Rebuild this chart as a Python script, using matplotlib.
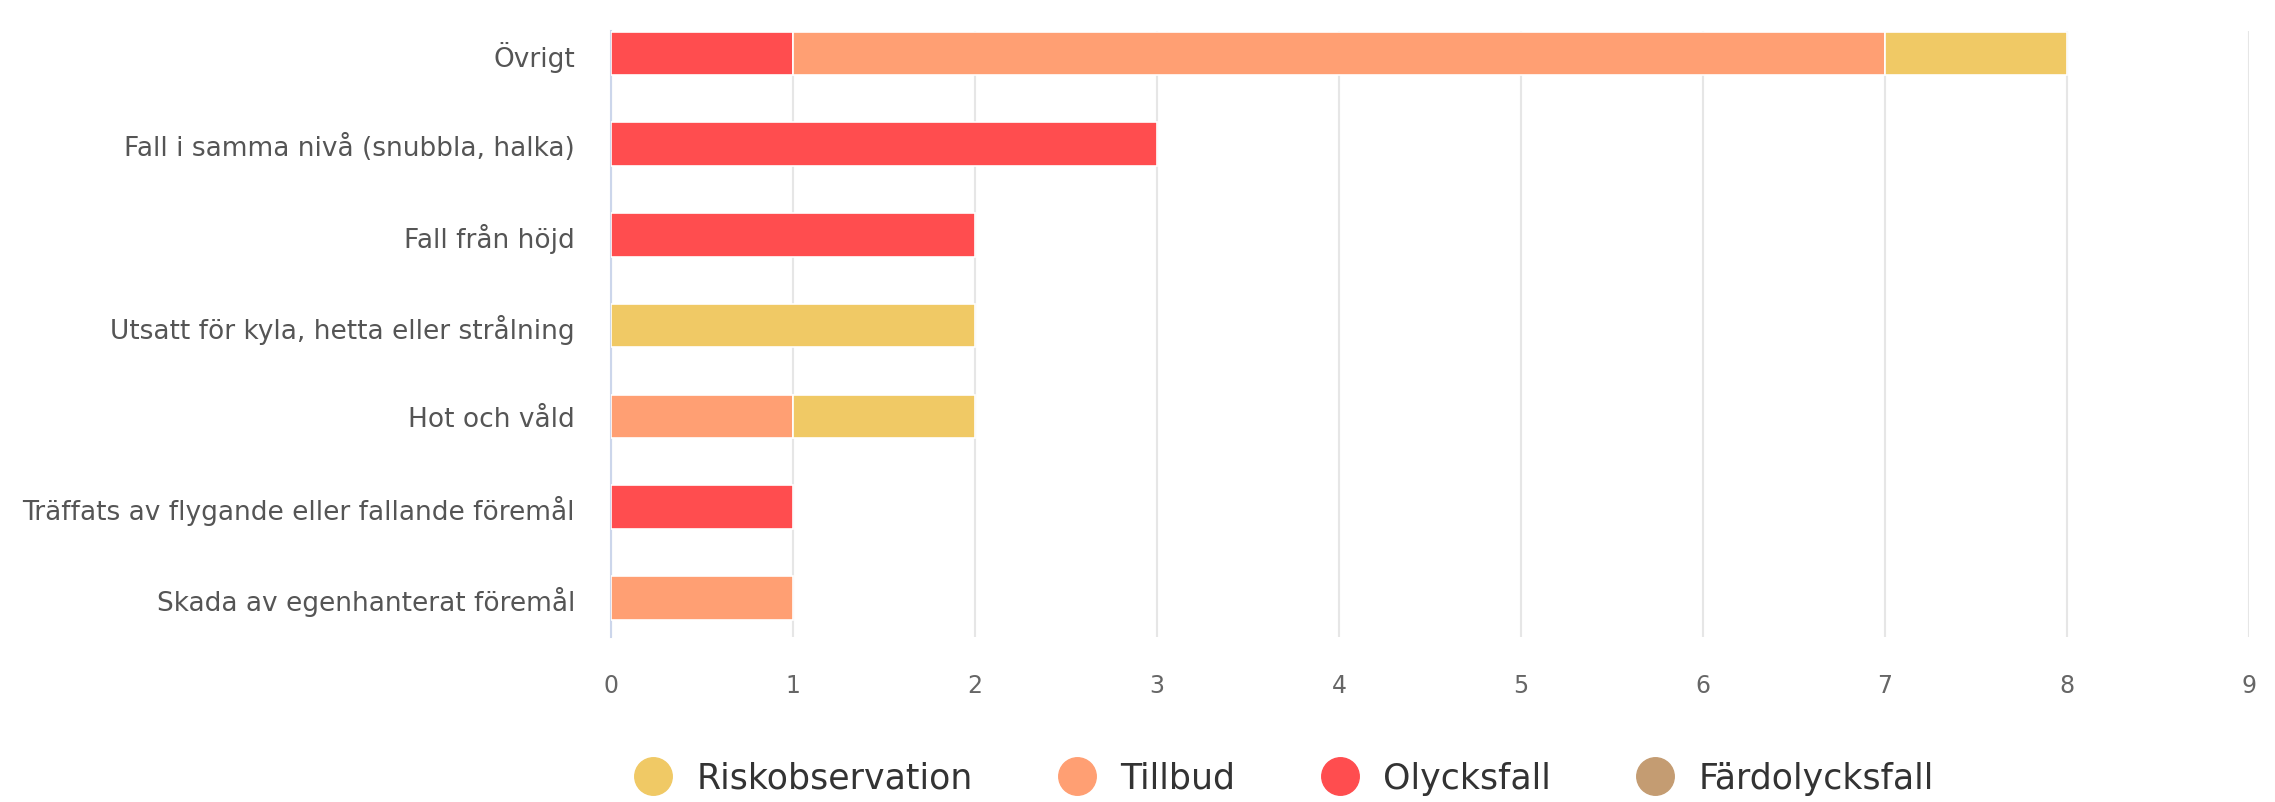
import matplotlib.pyplot as plt
import numpy as np

categories = [
    "Övrigt",
    "Fall i samma nivå (snubbla, halka)",
    "Fall från höjd",
    "Utsatt för kyla, hetta eller strålning",
    "Hot och våld",
    "Träffats av flygande eller fallande föremål",
    "Skada av egenhanterat föremål",
]
series_names = ["Riskobservation", "Tillbud", "Olycksfall", "Färdolycksfall"]
riskobservation = [1, 0, 0, 2, 1, 0, 0]
tillbud = [6, 0, 0, 0, 1, 0, 1]
olycksfall = [1, 3, 2, 0, 0, 1, 0]
fardolycksfall = [0, 0, 0, 0, 0, 0, 0]
x_ticks = list(range(0, 10))

colors = {
    "Riskobservation": "#f0c965",
    "Tillbud": "#ff9f73",
    "Olycksfall": "#ff4d4f",
    "Färdolycksfall": "#c49c72",
}

fig = plt.figure(figsize=(22.75, 8.03), dpi=100)
ax = fig.add_axes([0.2686, 0.2055, 0.72, 0.755])

y = np.arange(len(categories))[::-1]
left = np.zeros(len(categories))
# stacking from the axis outward: Färdolycksfall, Olycksfall, Tillbud, Riskobservation
stack = [("Färdolycksfall", fardolycksfall), ("Olycksfall", olycksfall),
         ("Tillbud", tillbud), ("Riskobservation", riskobservation)]
for name, vals in stack:
    vals = np.array(vals, dtype=float)
    mask = vals > 0
    ax.barh(y[mask], vals[mask], left=left[mask], height=0.48,
            color=colors[name], edgecolor="white", linewidth=1.2, zorder=3)
    left += vals

ax.set_xlim(0, 9)
ax.set_ylim(-0.43, 6.25)
ax.set_xticks(x_ticks)
ax.set_yticks(y)
ax.set_yticklabels(categories)
ax.grid(axis="x", color="#e6e6e6", linewidth=1.5, zorder=0)
ax.tick_params(axis="x", length=0, pad=26, labelsize=17, labelcolor="#666666")
ax.tick_params(axis="y", length=0, pad=26, labelsize=19, labelcolor="#555555")
for side in ["top", "right", "bottom"]:
    ax.spines[side].set_visible(False)
ax.spines["left"].set_color("#ccd6eb")
ax.spines["left"].set_linewidth(1.5)

handles = [plt.Line2D([], [], marker="o", linestyle="", markersize=27,
                      color=colors[n]) for n in series_names]
fig.legend(handles, series_names, loc="center", bbox_to_anchor=(0.561, 0.03),
           ncol=4, frameon=False, fontsize=25, handletextpad=0.25,
           columnspacing=2.0, labelcolor="#333333")

fig.savefig("out.png", dpi=100)
